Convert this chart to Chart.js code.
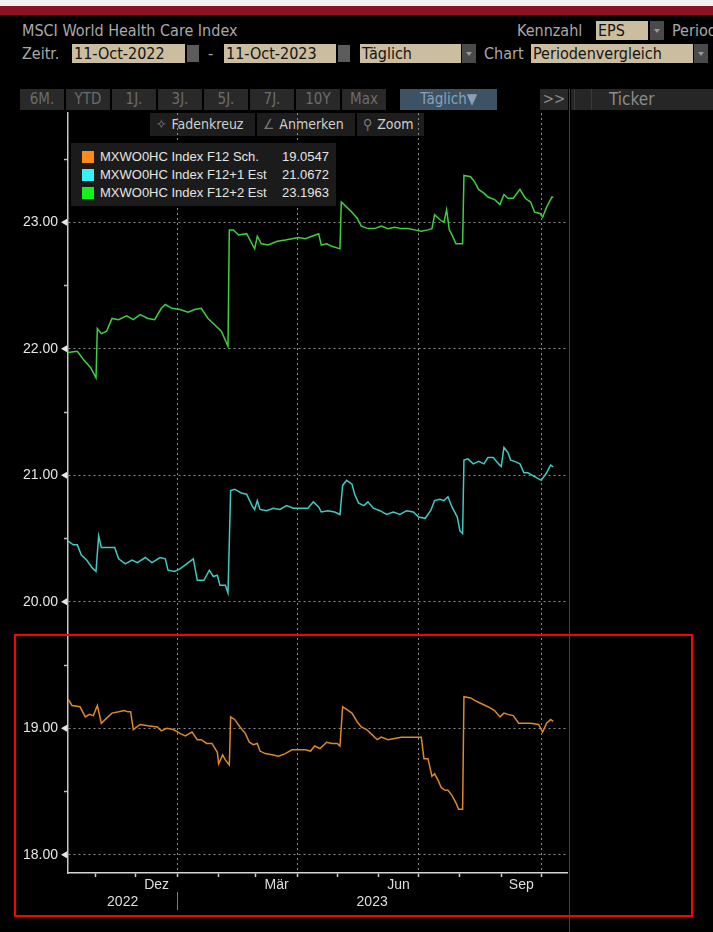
<!DOCTYPE html>
<html lang="de">
<head>
<meta charset="utf-8">
<title>MSCI World Health Care Index - EPS</title>
<script src="https://cdn.jsdelivr.net/npm/chart.js@4.4.1/dist/chart.umd.min.js"></script>
<style>
  html, body { margin: 0; padding: 0; background: #000; }
  body { width: 713px; height: 932px; position: relative; overflow: hidden;
         font-family: "DejaVu Sans Condensed", "DejaVu Sans", sans-serif; font-stretch: condensed; }
  .abs { position: absolute; white-space: nowrap; }
  .lbl { color: #a9a9a9; font-size: 16px; line-height: 19px; }
  .field { background: #cbbd9f; color: #141414; font-size: 16px; line-height: 19px; padding-left: 2px; box-sizing: border-box; height: 19px; }
  .arrow { background: #4a4a4a; width: 14px; height: 19px; }
  .arrow::after { content: ""; position: absolute; left: 4px; top: 8px; border-left: 3px solid transparent;
                  border-right: 3px solid transparent; border-top: 4px solid #9a9a9a; }
  .cal { background: #5c5c5c; width: 12px; height: 17px; }
  .btn { background: #292929; color: #6c6c6c; font-size: 15px; line-height: 21px; height: 21px; text-align: center; }
  .tool { background: #1d1d1d; color: #cfcfcf; font-size: 14px; line-height: 23px; height: 23px; padding: 0 6px; box-sizing: border-box; }
  .tool span { color: #7a7a7a; margin-right: 5px; }
  #legend { left: 71px; top: 143px; width: 265px; height: 63px; background: #1b1b1b;
            font-family: "Liberation Sans", Arial, sans-serif; font-size: 13px; color: #e4e4e4; }
  .row { position: absolute; left: 11px; width: 247px; height: 17px; line-height: 17px; }
  .sw { position: absolute; left: 0; top: 3px; width: 12px; height: 12px; }
  .name { position: absolute; left: 18px; }
  .val { position: absolute; right: 0; }
  canvas { position: absolute; left: 0; top: 88px; }
</style>
</head>
<body>
<div class="abs" style="left:0;top:0;width:713px;height:6px;background:#f2f2f2"></div>
<div class="abs" style="left:0;top:6px;width:713px;height:9px;background:#8a1222"></div>

<div class="abs lbl" style="left:22px;top:21px">MSCI World Health Care Index</div>
<div class="abs lbl" style="left:517px;top:21px">Kennzahl</div>
<div class="abs field" style="left:596px;top:21px;width:52px">EPS</div>
<div class="abs arrow" style="left:650px;top:21px"></div>
<div class="abs lbl" style="left:672px;top:21px">Periode</div>

<div class="abs lbl" style="left:22px;top:44px">Zeitr.</div>
<div class="abs field" style="left:72px;top:44px;width:113px">11-Oct-2022</div>
<div class="abs cal" style="left:187px;top:45px"></div>
<div class="abs lbl" style="left:208px;top:44px">-</div>
<div class="abs field" style="left:224px;top:44px;width:112px">11-Oct-2023</div>
<div class="abs cal" style="left:338px;top:45px"></div>
<div class="abs field" style="left:360px;top:44px;width:101px">Täglich</div>
<div class="abs arrow" style="left:462px;top:44px"></div>
<div class="abs lbl" style="left:484px;top:44px">Chart</div>
<div class="abs field" style="left:531px;top:44px;width:162px">Periodenvergleich</div>
<div class="abs arrow" style="left:694px;top:44px"></div>

<div id="buttons"></div>
<div class="abs btn" style="left:400px;top:89px;width:97px;background:#3c5265;color:#8ba0b3">Täglich▼</div>
<div class="abs btn" style="left:540px;top:89px;width:28px;color:#8a8a8a">&gt;&gt;</div>
<div class="abs" style="left:571px;top:89px;width:142px;height:21px;background:#262626"></div>
<div class="abs" style="left:574px;top:89px;width:16px;height:21px;border-right:1px solid #3a3a3a;border-left:1px solid #3a3a3a"></div>
<div class="abs" style="left:609px;top:88px;color:#8c8c8c;font-size:17px;line-height:22px">Ticker</div>
<div class="abs" style="left:569px;top:89px;width:1px;height:843px;background:#444"></div>

<div class="abs tool" style="left:150px;top:113px;width:105px"><span>✧</span>Fadenkreuz</div>
<div class="abs tool" style="left:257px;top:113px;width:98px"><span>∠</span>Anmerken</div>
<div class="abs tool" style="left:357px;top:113px;width:67px"><span>⚲</span>Zoom</div>

<canvas id="chart" width="570" height="832"></canvas>

<div id="legend" class="abs"></div>
<div class="abs" style="left:14px;top:634px;width:679px;height:283px;border:2px solid #ff0000;box-sizing:border-box"></div>

<script>
// Daten: Kalendertage seit 11-Oct-2022 und EPS-Werte je Reihe
const seriesNames = ['MXWO0HC Index F12 Sch.', 'MXWO0HC Index F12+1 Est', 'MXWO0HC Index F12+2 Est'];
const lastValues = ['19.0547', '21.0672', '23.1963'];

const f12Days = [0, 3, 9, 13, 16, 19, 22, 25, 29, 33, 38, 42, 45, 47, 49, 54, 60, 67, 70, 74, 79, 84, 88, 93, 97, 100, 104, 108, 112, 113, 116, 118, 121,
  122, 125, 129, 133, 136, 139, 142, 144, 148, 153, 158, 163, 168, 173, 178, 182, 185, 189, 194, 198, 202, 204,
  206, 209, 213, 217, 220, 224, 228, 232, 235, 240, 245, 250, 255, 260, 265, 267, 270, 273, 275, 278, 280, 283, 285, 288, 291, 293, 296,
  297, 302, 305, 309, 313, 317, 320, 324, 327, 330, 334, 338, 342, 347, 353, 356, 359, 362, 364];
const f12Values = [19.23, 19.18, 19.17, 19.09, 19.11, 19.10, 19.18, 19.04, 19.08, 19.12, 19.13, 19.14, 19.13, 19.13, 18.99, 19.03, 19.02, 19.01, 18.98, 19.00, 18.99, 18.96, 18.94, 18.97, 18.91, 18.91, 18.88, 18.88, 18.81, 18.72, 18.79, 18.75, 18.71,
  19.09, 19.07, 19.01, 18.96, 18.89, 18.87, 18.88, 18.82, 18.80, 18.79, 18.78, 18.80, 18.83, 18.83, 18.83, 18.82, 18.86, 18.84, 18.89, 18.88, 18.88, 18.86,
  19.17, 19.15, 19.12, 19.05, 19.01, 18.99, 18.95, 18.91, 18.93, 18.91, 18.92, 18.93, 18.93, 18.93, 18.93, 18.76, 18.76, 18.62, 18.64, 18.58, 18.53, 18.51, 18.51, 18.47, 18.41, 18.36, 18.36,
  19.25, 19.24, 19.22, 19.20, 19.18, 19.16, 19.14, 19.09, 19.12, 19.11, 19.10, 19.04, 19.04, 19.04, 19.03, 18.97, 19.04, 19.07, 19.0547];

const f12p1Days = [0, 4, 7, 10, 14, 18, 21, 23, 25, 29, 35, 38, 43, 48, 52, 58, 63, 69, 73, 75, 80, 84, 89, 94, 97, 102, 106, 109, 112, 114, 118, 120,
  122, 125, 130, 134, 138, 140, 142, 144, 149, 154, 159, 164, 169, 175, 180, 184, 188, 190, 195, 200, 204,
  206, 209, 213, 215, 218, 222, 225, 229, 234, 239, 244, 249, 254, 259, 263, 268, 272, 275, 279, 282, 285, 288, 292, 294, 296,
  297, 300, 304, 308, 312, 315, 319, 323, 325, 327, 330, 332, 335, 339, 342, 345, 350, 355, 359, 362, 364];
const f12p1Values = [20.48, 20.45, 20.45, 20.37, 20.33, 20.27, 20.24, 20.52, 20.43, 20.43, 20.43, 20.34, 20.30, 20.33, 20.31, 20.35, 20.31, 20.35, 20.34, 20.25, 20.24, 20.26, 20.30, 20.34, 20.17, 20.17, 20.25, 20.20, 20.21, 20.13, 20.13, 20.07,
  20.88, 20.89, 20.86, 20.85, 20.76, 20.73, 20.80, 20.73, 20.72, 20.74, 20.73, 20.76, 20.74, 20.74, 20.74, 20.79, 20.75, 20.71, 20.72, 20.71, 20.69,
  20.92, 20.96, 20.93, 20.85, 20.78, 20.76, 20.79, 20.74, 20.72, 20.69, 20.71, 20.69, 20.72, 20.71, 20.67, 20.66, 20.72, 20.80, 20.81, 20.80, 20.83, 20.75, 20.67, 20.56, 20.54,
  21.12, 21.13, 21.09, 21.11, 21.09, 21.14, 21.14, 21.09, 21.07, 21.22, 21.18, 21.12, 21.11, 21.09, 21.02, 21.02, 20.99, 20.96, 21.02, 21.08, 21.0672];

const f12p2Days = [0, 7, 12, 17, 21, 22, 25, 29, 33, 38, 44, 49, 54, 60, 65, 70, 73, 78, 84, 90, 95, 100, 105, 110, 115, 120,
  121, 124, 128, 134, 137, 140, 142, 145, 150, 157, 163, 168, 173, 178, 183, 188, 190, 194, 198, 204,
  205, 209, 213, 217, 220, 225, 230, 235, 240, 245, 250, 255, 260, 265, 270, 273, 275, 279, 282, 284, 286, 288, 291, 296,
  297, 302, 305, 308, 312, 315, 320, 324, 327, 330, 334, 339, 343, 347, 350, 354, 356, 359, 363, 364];
const f12p2Values = [21.97, 21.98, 21.91, 21.85, 21.77, 22.16, 22.12, 22.14, 22.24, 22.23, 22.26, 22.23, 22.27, 22.24, 22.23, 22.32, 22.35, 22.32, 22.31, 22.29, 22.31, 22.32, 22.24, 22.19, 22.14, 22.02,
  22.94, 22.94, 22.90, 22.91, 22.85, 22.79, 22.89, 22.83, 22.82, 22.85, 22.86, 22.87, 22.88, 22.87, 22.89, 22.91, 22.82, 22.83, 22.81, 22.79,
  23.16, 23.12, 23.08, 23.03, 22.97, 22.95, 22.95, 22.97, 22.95, 22.96, 22.95, 22.95, 22.94, 22.93, 22.94, 22.95, 23.06, 23.02, 23.00, 23.10, 22.94, 22.90, 22.83, 22.83,
  23.37, 23.36, 23.32, 23.26, 23.23, 23.20, 23.18, 23.14, 23.22, 23.19, 23.19, 23.26, 23.19, 23.16, 23.08, 23.07, 23.04, 23.12, 23.20, 23.1963];

const seriesColors = ['#dc882c', '#3fcac2', '#3fcf3f'];
const swatchColors = ['#ff8a1c', '#35f2f7', '#12f21a'];

// Achsen
const startDate = '2022-10-11';
const monthStarts = ['2022-11-01', '2022-12-01', '2023-01-01', '2023-02-01', '2023-03-01', '2023-04-01',
  '2023-05-01', '2023-06-01', '2023-07-01', '2023-08-01', '2023-09-01', '2023-10-01'];
const gridDates = ['2023-01-01', '2023-04-01', '2023-07-01', '2023-10-01'];
const monthLabels = ['Dez', 'Mär', 'Jun', 'Sep'];
const monthLabelStarts = ['2022-12-01', '2023-03-01', '2023-06-01', '2023-09-01'];
const yearLabels = ['2022', '2023'];
const yTicks = [18, 18.5, 19, 19.5, 20, 20.5, 21, 21.5, 22, 22.5, 23, 23.5];
const xMax = 374.3;
const yMin = 17.856;
const yMax = 23.864;

function dayOf(s) {
  return (Date.parse(s) - Date.parse(startDate)) / 864e5;
}

function nextMonth(s) {
  const d = new Date(s + 'T00:00:00Z');
  d.setUTCMonth(d.getUTCMonth() + 1);
  return d.toISOString().slice(0, 10);
}

const markDays = monthStarts.map(dayOf);
const gridDays = gridDates.map(dayOf);
const yearBreak = dayOf('2023-01-01');

// Tick-Beschriftungen der x-Achse (Monat mittig, Jahr in zweiter Zeile)
const xLabelMap = new Map();
monthLabelStarts.forEach((s, i) => {
  xLabelMap.set((dayOf(s) + dayOf(nextMonth(s))) / 2, monthLabels[i]);
});
xLabelMap.set(yearBreak / 2, ['', yearLabels[0]]);
xLabelMap.set((yearBreak + xMax) / 2, ['', yearLabels[1]]);

const xTickValues = [...markDays, ...xLabelMap.keys()].sort((a, b) => a - b);

// Legende
document.getElementById('legend').innerHTML = seriesNames.map((name, i) => `
  <div class="row" style="top:${5 + i * 18}px">
    <div class="sw" style="background:${swatchColors[i]}"></div>
    <span class="name">${name}</span><span class="val">${lastValues[i]}</span>
  </div>`).join('');

// Zeitraum-Buttons
document.getElementById('buttons').innerHTML = ['6M.', 'YTD', '1J.', '3J.', '5J.', '7J.', '10Y', 'Max'].map((b, i) =>
  `<div class="abs btn" style="left:${20 + i * 46}px;top:89px;width:44px">${b}</div>`).join('');

function toPoints(days, values) {
  return days.map((d, i) => ({ x: d, y: values[i] }));
}

// Dreiecke an den Hauptticks und Jahrestrenner
const axisMarks = {
  id: 'axisMarks',
  afterDraw(chart) {
    const ctx = chart.ctx;
    const y = chart.scales.y;
    const x = chart.scales.x;
    ctx.save();
    ctx.fillStyle = '#e6e6e6';
    yTicks.filter(v => Number.isInteger(v)).forEach(v => {
      const py = y.getPixelForValue(v);
      ctx.beginPath();
      ctx.moveTo(y.right - 7, py);
      ctx.lineTo(y.right - 1, py - 3.5);
      ctx.lineTo(y.right - 1, py + 3.5);
      ctx.closePath();
      ctx.fill();
    });
    const px = Math.round(x.getPixelForValue(yearBreak)) + 0.5;
    ctx.strokeStyle = '#7a7a7a';
    ctx.lineWidth = 1;
    ctx.beginPath();
    ctx.moveTo(px, x.top + 19);
    ctx.lineTo(px, x.top + 37);
    ctx.stroke();
    ctx.restore();
  }
};

new Chart(document.getElementById('chart'), {
  type: 'line',
  data: {
    datasets: [
      { label: seriesNames[0], data: toPoints(f12Days, f12Values), borderColor: seriesColors[0] },
      { label: seriesNames[1], data: toPoints(f12p1Days, f12p1Values), borderColor: seriesColors[1] },
      { label: seriesNames[2], data: toPoints(f12p2Days, f12p2Values), borderColor: seriesColors[2] }
    ]
  },
  options: {
    responsive: false,
    animation: false,
    devicePixelRatio: 1,
    layout: { padding: { top: 25, right: 3, bottom: 0, left: 0 } },
    elements: {
      line: { borderWidth: 1.5, tension: 0 },
      point: { radius: 0 }
    },
    plugins: {
      legend: { display: false },
      tooltip: { enabled: false }
    },
    scales: {
      x: {
        type: 'linear',
        min: 0,
        max: xMax,
        afterFit: scale => { scale.height = 47; },
        afterBuildTicks: scale => { scale.ticks = xTickValues.map(v => ({ value: v })); },
        border: { color: '#d6d6d6', width: 1.5, dash: [2, 3] },
        grid: {
          color: ctx => ctx.tick && gridDays.includes(ctx.tick.value) ? '#8c8c8c' : 'transparent',
          tickColor: ctx => ctx.tick && markDays.includes(ctx.tick.value) ? '#cfcfcf' : 'transparent',
          tickLength: 4,
          tickWidth: 1.5,
          lineWidth: 1
        },
        ticks: {
          autoSkip: false,
          maxRotation: 0,
          minRotation: 0,
          padding: 0,
          color: '#dedede',
          font: { family: 'Liberation Sans', size: 14, lineHeight: 1.2 },
          callback: value => xLabelMap.has(value) ? xLabelMap.get(value) : ''
        }
      },
      y: {
        min: yMin,
        max: yMax,
        afterFit: scale => { scale.width = 68; },
        afterBuildTicks: scale => { scale.ticks = yTicks.map(v => ({ value: v })); },
        border: { color: '#c8c8c8', width: 1.5, dash: [2, 3] },
        grid: {
          color: ctx => ctx.tick && Number.isInteger(ctx.tick.value) ? '#8c8c8c' : 'transparent',
          tickColor: ctx => ctx.tick && !Number.isInteger(ctx.tick.value) ? '#bdbdbd' : 'transparent',
          tickLength: 4,
          tickWidth: 1.5,
          lineWidth: 1
        },
        ticks: {
          padding: 6,
          color: '#e6e6e6',
          font: { family: 'Liberation Sans', size: 14 },
          callback: value => Number.isInteger(value) ? value.toFixed(2) : ''
        }
      }
    }
  },
  plugins: [axisMarks]
});
</script>
</body>
</html>
